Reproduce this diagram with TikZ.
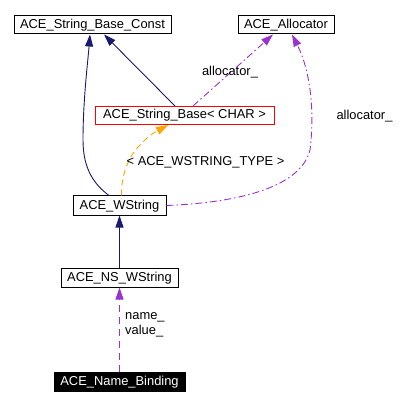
\documentclass[tikz,border=0pt]{standalone}
\usepackage{fontspec}
\setmainfont{Liberation Sans}
\usetikzlibrary{arrows.meta,calc}
\definecolor{navy}{HTML}{191970}
\definecolor{purp}{HTML}{9A32CD}
\definecolor{orng}{HTML}{FFA500}
\begin{document}
\begin{tikzpicture}[x=1pt,y=-1pt,
  font=\fontsize{12.9}{15}\selectfont,
  cls/.style={draw=black, line width=1pt, inner sep=0pt, minimum height=18pt, text height=9.5pt, text depth=2.5pt},
  tipnavy/.style={-{Triangle[length=12pt,width=8pt]}},
  inh/.style={draw=navy, line width=0.9pt, tipnavy},
  usearrow/.style={draw=purp, line width=0.9pt, -{Triangle[length=12pt,width=8pt]}, dash pattern=on 7pt off 3pt on 1.5pt off 3pt},
  memb/.style={draw=purp, line width=0.9pt, -{Triangle[length=12pt,width=8pt]}, dash pattern=on 7pt off 5pt},
  tmpl/.style={draw=orng, line width=0.9pt, -{Triangle[length=12pt,width=8pt]}, dash pattern=on 6pt off 4pt},
  lbl/.style={inner sep=0pt, text height=9.5pt, text depth=2.5pt}]
\useasboundingbox (0,0) rectangle (412,406);

\node[cls, minimum width=157pt] (sbc) at (92.5,25) {ACE\_String\_Base\_Const};
\node[cls, minimum width=96pt] (alloc) at (286,25) {ACE\_Allocator};
\node[cls, draw=red, minimum width=179pt] (sb) at (184.5,115.5) {ACE\_String\_Base< CHAR >};
\node[cls, minimum width=93pt, minimum height=19pt] (ws) at (119.5,205.5) {ACE\_WString};
\node[cls, minimum width=117pt, minimum height=19pt] (ns) at (119.5,277.5) {ACE\_NS\_WString};
\node[cls, fill=black, text=white, minimum width=131pt, minimum height=19pt] (nb) at (119.5,382) {ACE\_Name\_Binding};

\draw[inh] ($(ws.north)+(-10.5,0)$) .. controls (95,185) and (83,170) .. (83,140) .. controls (83,100) and (88,60) .. ($(sbc.south)+(-2.5,0)$);
\draw[inh] ($(sb.north)+(-9.5,0)$) -- ($(sbc.south)+(11.5,0)$);
\draw[usearrow] ($(sb.north)+(8.5,0)$) -- ($(alloc.south)+(-13,0)$);
\draw[usearrow] (ws.east) .. controls (230,203) and (300,190) .. (310,150) .. controls (315,110) and (310,70) .. ($(alloc.south)+(6,0)$);
\draw[tmpl] ($(ws.north)+(2,0)$) .. controls (121,180) and (126,160) .. (138,147) .. controls (150,135) .. ($(sb.south)+(-16.5,0)$);
\draw[inh] (ns.north) -- (ws.south);
\draw[memb] (nb.north) -- (ns.south);

\node[lbl] (l1) at (230,72) {allocator\_};
\node[lbl] (l2) at (364.5,116) {allocator\_};
\node[lbl] (l3) at (205.5,162) {< ACE\_WSTRING\_TYPE >};
\node[lbl, anchor=west, align=left, font=\fontsize{12.9}{15}\selectfont] (l4) at (125,331) {name\_\\value\_};
\end{tikzpicture}
\end{document}
